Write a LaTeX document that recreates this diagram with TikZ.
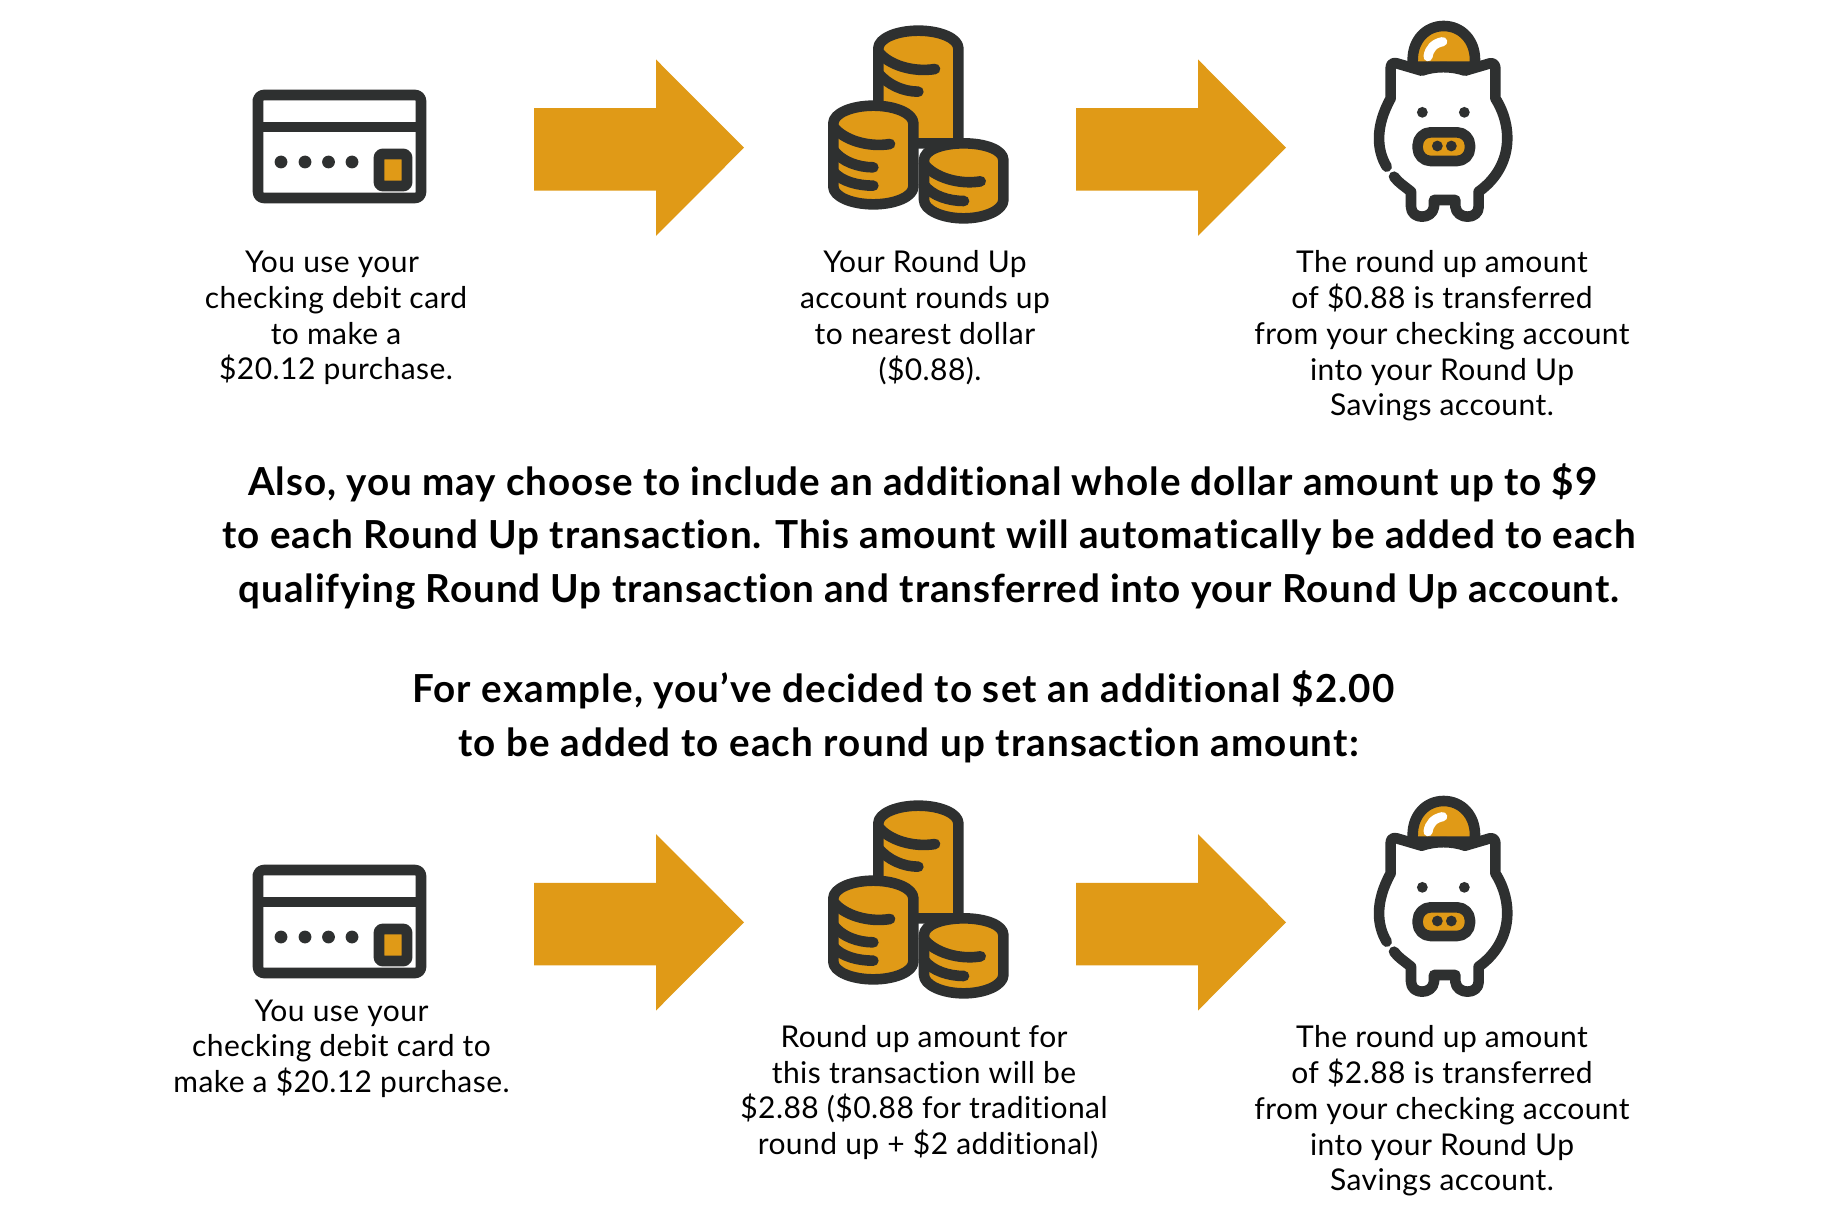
\documentclass[tikz,border=0pt]{standalone}
\usepackage{fontspec}
\setmainfont{Lato}[Ligatures=NoCommon]
\definecolor{gold}{HTML}{E09A17}
\definecolor{ink}{HTML}{2E3030}
\tikzset{
  x=0.5pt,y=-0.5pt,
  ico/.style={draw=ink,line width=5.3pt,line join=round,line cap=round},
  goldfill/.style={fill=gold},
  arrowshape/.style={fill=gold,draw=none},
  small/.style={align=center,inner sep=0pt,font=\fontsize{15}{17.9}\selectfont\addfontfeature{LetterSpace=1.5},text=black},
  big/.style={align=center,inner sep=0pt,font=\fontsize{19.3}{26.85}\selectfont\bfseries\addfontfeature{LetterSpace=2.3},text=black},
  bigwide/.style={align=center,inner sep=0pt,font=\fontsize{19.3}{26.85}\selectfont\bfseries\addfontfeature{LetterSpace=2.9},text=black},
  zoomA/.style={shift={(810,10)},x=0.16667pt,y=-0.16667pt},
  zoomB/.style={shift={(1350,10)},x=0.16667pt,y=-0.16667pt},
  pics/card/.style={code={
    \draw[ico] (258,105) [rounded corners=3pt] -- (258,198) -- (421,198) -- (421,95) -- (258,95) -- cycle;
    \draw[ico,line cap=butt] (258,127) -- (421,127);
    \foreach \px in {281,305,328.5,352}{\fill[ink] (\px,162) circle[radius=3.2pt];}
    \draw[ico,goldfill,rounded corners=1.5pt] (379,154) rectangle (407,186);
  }},
  pics/coins/.style={code={
    \begin{scope}[zoomA]
      \draw[ico,goldfill] (205,300) -- (205,115) .. controls (205,85) and (260,62) .. (325,62) .. controls (390,62) and (445,85) .. (445,115) -- (445,400) -- (205,400) -- cycle;
      \draw[ico] (205,125) .. controls (235,165) and (310,188) .. (375,177);
      \draw[ico] (205,190) .. controls (235,225) and (280,245) .. (325,245);
      \draw[ico,goldfill] (70,340) .. controls (70,310) and (125,287) .. (190,287) .. controls (255,287) and (310,310) .. (310,340) -- (310,530) .. controls (310,560) and (255,583) .. (190,583) .. controls (125,583) and (70,560) .. (70,530) -- cycle;
      \draw[ico] (70,350) .. controls (100,390) and (175,413) .. (240,402);
      \draw[ico] (70,420) .. controls (95,455) and (145,472) .. (190,472);
      \draw[ico] (70,485) .. controls (95,515) and (145,527) .. (190,527);
      \draw[ico,goldfill] (342,450) .. controls (342,420) and (396,400) .. (461,400) .. controls (526,400) and (580,420) .. (580,450) -- (580,570) .. controls (580,600) and (526,625) .. (461,625) .. controls (396,625) and (342,600) .. (342,570) -- cycle;
      \draw[ico] (342,462) .. controls (372,502) and (447,525) .. (512,514);
      \draw[ico] (342,525) .. controls (367,558) and (417,573) .. (462,573);
    \end{scope}
  }},
  pics/piggy/.style={code={
    \begin{scope}[zoomB]
      \draw[ico,goldfill] (188,170) -- (188,150) .. controls (188,90) and (228,48) .. (281,48) .. controls (334,48) and (375,90) .. (375,150) -- (375,170) -- cycle;
      \draw[white,line width=4.6pt,line cap=round] (234,140) .. controls (238,115) and (252,100) .. (278,95);
      \draw[ico] (110,470) .. controls (80,420) and (75,350) .. (122,265) -- (122,175) .. controls (122,160) and (130,158) .. (140,160) -- (215,182) .. controls (255,168) and (305,168) .. (345,182) -- (420,160) .. controls (430,158) and (436,165) .. (436,175) -- (436,265) .. controls (490,350) and (490,470) .. (386,545) -- (386,590) .. controls (386,630) and (320,630) .. (316,590) -- (316,570) -- (252,570) -- (252,590) .. controls (248,630) and (183,630) .. (183,590) -- (183,545) .. controls (165,530) and (145,518) .. (132,500);
      \fill[ink] (217,307) circle[radius=2.7pt] (343,307) circle[radius=2.7pt];
      \draw[ico,goldfill,rounded corners=6.5pt] (203,367) rectangle (360,453);
      \fill[ink] (262,408) circle[radius=2.7pt] (304,408) circle[radius=2.7pt];
    \end{scope}
  }},
  pics/bigarrow/.style={code={
    \fill[arrowshape] (0,-39.5) -- (122,-39.5) -- (122,-88.2) -- (210,0) -- (122,88.2) -- (122,43) -- (0,43) -- cycle;
  }}
}
\begin{document}
\begin{tikzpicture}
\useasboundingbox (0,0) rectangle (1831,1230);
\fill[white] (0,0) rectangle (1831,1230);
\pic (c1) at (0,0) {card};
\pic (m1) at (0,0) {coins};
\pic (p1) at (0,0) {piggy};
\pic (a1) at (534,147.7) {bigarrow};
\pic (a2) at (1076,147.7) {bigarrow};
\pic (c2) at (0,775) {card};
\pic (m2) at (0,775) {coins};
\pic (p2) at (0,775) {piggy};
\pic (a3) at (534,922.3) {bigarrow};
\pic (a4) at (1076,922.3) {bigarrow};
\node[small] (t1) at (336,318) {You use your\hspace*{4pt}\\checking debit card\\to make a\hspace*{4pt}\\\$20.12 purchase.};
\node[small] (t2) at (925,317.5) {Your Round Up\\account rounds up\\to nearest dollar\\\hspace*{5pt}(\$0.88).};
\node[small] (t3) at (1442,336) {The round up amount\\of \$0.88 is transferred\\from your checking account\\into your Round Up\\Savings account.};
\node[big] (b1) at (929,536.5) {Also, you may choose to include an additional whole dollar amount up to \$9\hspace*{6.4pt}\\to each Round Up transaction. This amount will automatically be added to each\\qualifying Round Up transaction and transferred into your Round Up account.};
\node[bigwide] (b2) at (908.5,717) {For example, you’ve decided to set an additional \$2.00\hspace*{5.2pt}\\to be added to each round up transaction amount:};
\node[small] (t4) at (341.5,1048.7) {You use your\\checking debit card to\hspace*{3pt}\\make a \$20.12 purchase.};
\node[small] (t5) at (924,1092.5) {Round up amount for\\this transaction will be\\\$2.88 (\$0.88 for traditional\\\hspace*{4pt}round up + \$2 additional)};
\node[small] (t6) at (1442,1111) {The round up amount\\of \$2.88 is transferred\\from your checking account\\into your Round Up\\Savings account.};
\end{tikzpicture}
\end{document}
